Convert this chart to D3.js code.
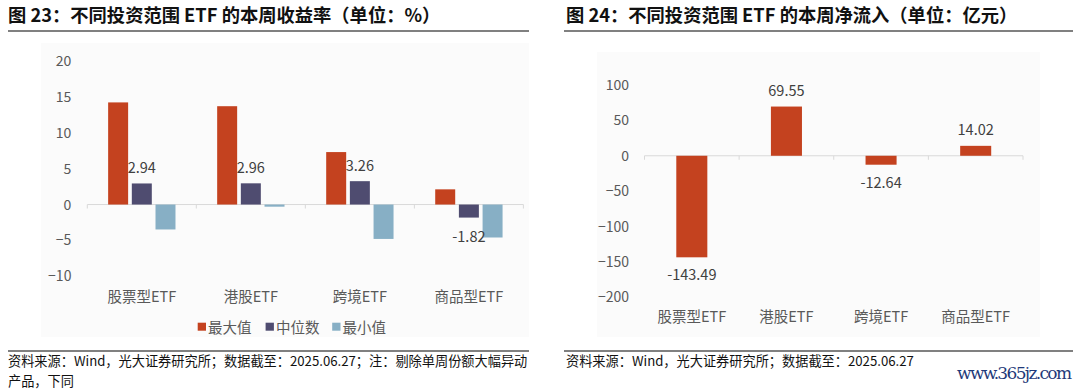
<!DOCTYPE html>
<html>
<head>
<meta charset="utf-8">
<script src="https://cdn.jsdelivr.net/npm/d3@7"></script>
<style>
  body { margin: 0; background: #fff; }
  svg { display: block; font-family: "Noto Sans CJK SC", "Noto Sans", sans-serif; }
</style>
</head>
<body>
<svg id="chart" width="1080" height="389"></svg>
<script>
// chart 23 data (weekly return, %)
const categories = ['股票型ETF', '港股ETF', '跨境ETF', '商品型ETF'];
const seriesNames = ['最大值', '中位数', '最小值'];
const maxValues = [14.25, 13.72, 7.32, 2.12];
const medianValues = [2.94, 2.96, 3.26, -1.82];
const minValues = [-3.48, -0.3, -4.8, -4.6];
const returnTicks = [-10, -5, 0, 5, 10, 15, 20];

// chart 24 data (weekly net inflow, 亿元)
const flowValues = [-143.49, 69.55, -12.64, 14.02];
const flowTicks = [-200, -150, -100, -50, 0, 50, 100];

const colors = { '最大值': '#c4421f', '中位数': '#4f4c70', '最小值': '#87afc5' };
const labelColor = '#404040';
const axisColor = '#595959';

const svg = d3.select('#chart');

// ---------- header / footer rules and texts ----------
function rule(x1, x2, y) {
  svg.append('line')
    .attr('x1', x1).attr('x2', x2).attr('y1', y).attr('y2', y)
    .attr('stroke', '#808080').attr('stroke-width', 2);
}
rule(8, 529, 31);
rule(564, 1073, 31);
rule(8, 529, 351);
rule(564, 1073, 351);

svg.append('text').attr('x', 8).attr('y', 22)
  .attr('font-size', 18.3).attr('font-weight', 'bold').attr('fill', '#111')
  .text('图 23：不同投资范围 ETF 的本周收益率（单位：%）');
svg.append('text').attr('x', 566).attr('y', 22)
  .attr('font-size', 18.3).attr('font-weight', 'bold').attr('fill', '#111')
  .text('图 24：不同投资范围 ETF 的本周净流入（单位：亿元）');

svg.append('text').attr('x', 8).attr('y', 366)
  .attr('font-size', 13.2).attr('fill', '#111')
  .text('资料来源：Wind，光大证券研究所；数据截至：2025.06.27；注：剔除单周份额大幅异动');
svg.append('text').attr('x', 8).attr('y', 386)
  .attr('font-size', 13.2).attr('fill', '#111')
  .text('产品，下同');
svg.append('text').attr('x', 566).attr('y', 366)
  .attr('font-size', 13.2).attr('fill', '#111')
  .text('资料来源：Wind，光大证券研究所；数据截至：2025.06.27');
svg.append('text').attr('x', 957).attr('y', 379)
  .attr('font-size', 17).attr('font-family', '"DejaVu Serif", serif')
  .attr('fill', '#1f3a7a').attr('textLength', 115)
  .text('www.365jz.com');

// faint plot panels
svg.append('rect').attr('x', 41).attr('y', 43).attr('width', 488).attr('height', 294).attr('fill', '#fbfbfb');
svg.append('rect').attr('x', 597).attr('y', 52).attr('width', 443).attr('height', 285).attr('fill', '#fbfbfb');

function styleAxisText(g, size) {
  g.selectAll('text').attr('font-size', size).attr('fill', axisColor)
    .attr('font-family', '"Noto Sans CJK SC", sans-serif');
}

// ---------- chart 23: grouped bars ----------
{
  const rows = categories.map((c, i) => ({
    cat: c,
    vals: [
      { key: '最大值', v: maxValues[i] },
      { key: '中位数', v: medianValues[i] },
      { key: '最小值', v: minValues[i] }
    ]
  }));

  const x0 = d3.scaleBand().domain(categories).range([87.3, 523.4]);
  const x1 = d3.scaleBand().domain(seriesNames).range([0, x0.bandwidth()])
    .paddingInner(0.156).paddingOuter(0.88);
  const y = d3.scaleLinear().domain([-10, 20]).range([276.2, 61.2]);

  const yAxis = d3.axisLeft(y).tickValues(returnTicks).tickSize(0).tickPadding(0);
  const gy = svg.append('g').attr('transform', 'translate(71.4,0)').call(yAxis);
  gy.select('.domain').remove();
  styleAxisText(gy, 14);

  // zero line with category boundary ticks
  svg.append('line').attr('x1', x0.range()[0]).attr('x2', x0.range()[1])
    .attr('y1', y(0)).attr('y2', y(0)).attr('stroke', '#d9d9d9');
  const bounds = categories.map(c => x0(c)).concat([x0.range()[1]]);
  svg.selectAll('.tick23').data(bounds).enter().append('line')
    .attr('x1', d => d).attr('x2', d => d)
    .attr('y1', y(0)).attr('y2', y(0) + 4).attr('stroke', '#d9d9d9');

  const groups = svg.selectAll('.grp23').data(rows).enter().append('g')
    .attr('transform', d => `translate(${x0(d.cat)},0)`);
  groups.selectAll('rect').data(d => d.vals).enter().append('rect')
    .attr('x', d => x1(d.key))
    .attr('width', x1.bandwidth())
    .attr('y', d => y(Math.max(0, d.v)))
    .attr('height', d => Math.abs(y(d.v) - y(0)))
    .attr('fill', d => colors[d.key]);

  // labels only for median series
  groups.selectAll('.lbl').data(d => d.vals.filter(v => v.key === '中位数')).enter()
    .append('text')
    .attr('x', d => x1(d.key) + x1.bandwidth() / 2)
    .attr('y', d => d.v >= 0 ? y(d.v) - 16.5 : y(d.v) + 17.5)
    .attr('text-anchor', 'middle').attr('dominant-baseline', 'central')
    .attr('font-size', 14.5).attr('fill', labelColor)
    .text(d => d.v.toFixed(2));

  // category labels
  const xAxis = d3.axisBottom(x0).tickSize(0).tickPadding(0);
  const gx = svg.append('g').attr('transform', 'translate(0,295)').call(xAxis);
  gx.select('.domain').remove();
  styleAxisText(gx, 14.5);
  gx.selectAll('text').attr('dy', null).attr('dominant-baseline', 'central');

  // legend
  const legendX = [197.7, 265.6, 332.2];
  const lg = svg.selectAll('.leg').data(seriesNames).enter().append('g')
    .attr('transform', (d, i) => `translate(${legendX[i]},326.7)`);
  lg.append('rect').attr('x', 0).attr('y', -4).attr('width', 8.3).attr('height', 8)
    .attr('fill', d => colors[d]);
  lg.append('text').attr('x', 10.4).attr('y', 0).attr('dominant-baseline', 'central')
    .attr('font-size', 14.5).attr('fill', axisColor).text(d => d);
}

// ---------- chart 24: single bars ----------
{
  const x = d3.scaleBand().domain(categories).range([644.5, 1023]);
  const barW = x.bandwidth() * 0.328;
  const y = d3.scaleLinear().domain([-200, 100]).range([297.3, 85]);

  const yAxis = d3.axisLeft(y).tickValues(flowTicks).tickSize(0).tickPadding(0);
  const gy = svg.append('g').attr('transform', 'translate(629,0)').call(yAxis);
  gy.select('.domain').remove();
  styleAxisText(gy, 14);

  svg.append('line').attr('x1', x.range()[0]).attr('x2', x.range()[1])
    .attr('y1', y(0)).attr('y2', y(0)).attr('stroke', '#d9d9d9');
  const bounds = categories.map(c => x(c)).concat([x.range()[1]]);
  svg.selectAll('.tick24').data(bounds).enter().append('line')
    .attr('x1', d => d).attr('x2', d => d)
    .attr('y1', y(0)).attr('y2', y(0) + 4).attr('stroke', '#d9d9d9');

  const data = categories.map((c, i) => ({ cat: c, v: flowValues[i] }));
  svg.selectAll('.bar24').data(data).enter().append('rect')
    .attr('x', d => x(d.cat) + (x.bandwidth() - barW) / 2)
    .attr('width', barW)
    .attr('y', d => y(Math.max(0, d.v)))
    .attr('height', d => Math.abs(y(d.v) - y(0)))
    .attr('fill', colors['最大值']);

  svg.selectAll('.lbl24').data(data).enter().append('text')
    .attr('x', d => x(d.cat) + x.bandwidth() / 2)
    .attr('y', d => d.v >= 0 ? y(d.v) - 17.5 : y(d.v) + 16.5)
    .attr('text-anchor', 'middle').attr('dominant-baseline', 'central')
    .attr('font-size', 14.5).attr('fill', labelColor)
    .text(d => d.v.toFixed(2));

  const xAxis = d3.axisBottom(x).tickSize(0).tickPadding(0);
  const gx = svg.append('g').attr('transform', 'translate(0,315.7)').call(xAxis);
  gx.select('.domain').remove();
  styleAxisText(gx, 14.5);
  gx.selectAll('text').attr('dy', null).attr('dominant-baseline', 'central');
}
</script>
</body>
</html>
